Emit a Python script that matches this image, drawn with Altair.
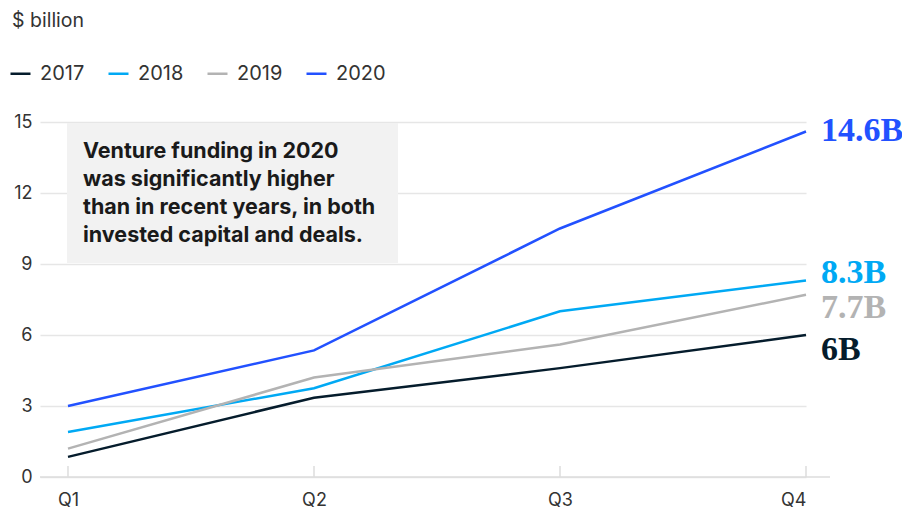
import altair as alt
import pandas as pd

quarters = ["Q1", "Q2", "Q3", "Q4"]
years = ["2017", "2018", "2019", "2020"]
v2017 = [0.85, 3.35, 4.6, 6.0]
v2018 = [1.9, 3.75, 7.0, 8.3]
v2019 = [1.2, 4.2, 5.6, 7.7]
v2020 = [3.0, 5.35, 10.5, 14.6]
end_labels = ["6B", "8.3B", "7.7B", "14.6B"]
y_ticks = [0, 3, 6, 9, 12, 15]
note_lines = ["Venture funding in 2020", "was significantly higher",
              "than in recent years, in both", "invested capital and deals."]
unit_title = "$ billion"

colors = ["#051c2c", "#00a9f4", "#b3b3b3", "#2251ff"]
label_dy = {"2017": 15, "2018": -8, "2019": 13, "2020": 0}

series = [v2017, v2018, v2019, v2020]
rows = []
for yr, vals, lab in zip(years, series, end_labels):
    for i, (q, v) in enumerate(zip(quarters, vals)):
        rows.append({"year": yr, "quarter": q, "qi": i + 1, "value": v, "label": lab})
df = pd.DataFrame(rows)

FONT = "Inter"
W, H = 766, 355

xscale = alt.Scale(domain=[0.8862, 4], nice=False, zero=False)
yscale = alt.Scale(domain=[0, 15], nice=False)
cscale = alt.Scale(domain=years, range=colors)

base = alt.Chart(df)

lines = base.mark_line(strokeWidth=2.5).encode(
    x=alt.X("qi:Q", scale=xscale,
            axis=alt.Axis(values=[1, 2, 3, 4], labelExpr="'Q' + datum.value",
                          grid=False, domain=False, ticks=False, title=None,
                          labelFontSize=18, labelPadding=14, labelColor="#333333",
                          labelFont=FONT)),
    y=alt.Y("value:Q", scale=yscale,
            axis=alt.Axis(values=y_ticks, grid=True, gridColor="#e6e6e6", gridWidth=1.5,
                          domain=False, ticks=False, title=None,
                          labelFontSize=18, labelPadding=8, labelColor="#333333",
                          labelFont=FONT)),
    color=alt.Color("year:N", scale=cscale,
                    legend=alt.Legend(title=None, orient="none", legendX=-31, legendY=-60,
                                      direction="horizontal", symbolType="stroke",
                                      symbolSize=400, symbolStrokeWidth=2.5,
                                      labelFontSize=20, labelFont=FONT, labelColor="#333333",
                                      labelOffset=8, columnPadding=18)),
    detail="year:N",
)

dummy = alt.Chart(pd.DataFrame({"a": [0]}))

box = dummy.mark_rect(color="#f2f2f2").encode(
    x=alt.value(27), x2=alt.value(358), y=alt.value(1), y2=alt.value(141)
)

note = dummy.mark_text(align="left", baseline="alphabetic", fontSize=21.5,
                       fontWeight="bold", font=FONT, color="#1a1a1a",
                       lineHeight=28).encode(
    x=alt.value(43), y=alt.value(36), text=alt.value(note_lines)
)

title = dummy.mark_text(align="left", baseline="alphabetic", fontSize=19.5,
                        font=FONT, color="#333333").encode(
    x=alt.value(-28), y=alt.value(-95), text=alt.value(unit_title)
)

baseline_rule = dummy.mark_rule(color="#dddddd", strokeWidth=1.5).encode(
    x=alt.value(0), x2=alt.value(790), y=alt.value(H)
)

ticks = base.transform_filter("datum.year == '2017'").mark_rule(
    color="#dddddd", strokeWidth=1.5).encode(
    x=alt.X("qi:Q", scale=xscale), y=alt.value(H - 11), y2=alt.value(H)
)

label_layers = []
for yr, col in zip(years, colors):
    label_layers.append(
        base.transform_filter(f"datum.year == '{yr}' && datum.qi == 4").mark_text(
            align="left", baseline="middle", dx=15, dy=label_dy[yr], fontSize=34,
            fontWeight="bold", font="Liberation Serif", color=col).encode(
            x=alt.X("qi:Q", scale=xscale),
            y=alt.Y("value:Q", scale=yscale),
            text="label:N")
    )

chart = alt.layer(box, baseline_rule, ticks, lines, note, title, *label_layers).properties(
    width=W, height=H,
    autosize=alt.AutoSizeParams(type="none"),
    padding={"left": 32, "top": 114, "right": 96, "bottom": 40},
    background="white",
).configure_view(strokeWidth=0)

chart.save("out.html", embed_options={"renderer": "svg", "actions": False})
